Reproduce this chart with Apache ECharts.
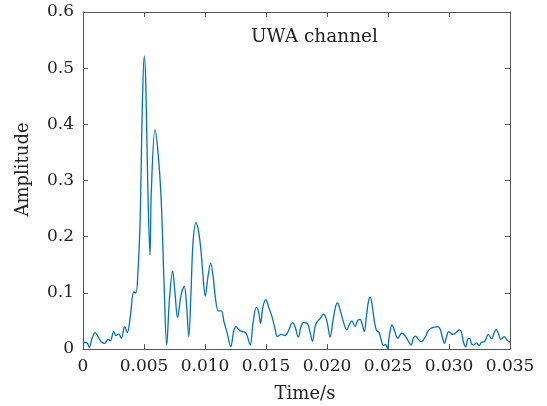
<!DOCTYPE html>
<html>
<head>
<meta charset="utf-8">
<script src="https://cdn.jsdelivr.net/npm/echarts@6/dist/echarts.min.js"></script>
<style>
  html, body { margin: 0; padding: 0; background: #fff; }
  #chart { width: 547px; height: 406px; }
</style>
</head>
<body>
<div id="chart"></div>
<script>
// Channel impulse response: time (s) and amplitude samples
const timeSec = [
  0.00000, 0.00033, 0.00052, 0.00074, 0.00101, 0.00123, 0.00150, 0.00178, 0.00205, 0.00224,
  0.00252, 0.00270, 0.00293, 0.00314, 0.00342, 0.00363, 0.00388, 0.00416, 0.00434, 0.00451,
  0.00467, 0.00475, 0.00487, 0.00502, 0.00515, 0.00530, 0.00549, 0.00560, 0.00590, 0.00615,
  0.00640, 0.00664, 0.00686, 0.00709, 0.00735, 0.00754, 0.00775, 0.00803, 0.00830, 0.00848,
  0.00867, 0.00885, 0.00902, 0.00926, 0.00947, 0.00967, 0.00984, 0.01002, 0.01025, 0.01047,
  0.01066, 0.01086, 0.01109, 0.01134, 0.01156, 0.01180, 0.01211, 0.01234, 0.01254, 0.01279,
  0.01303, 0.01332, 0.01348, 0.01371, 0.01393, 0.01421, 0.01439, 0.01455, 0.01475, 0.01498,
  0.01521, 0.01547, 0.01570, 0.01594, 0.01623, 0.01656, 0.01685, 0.01717, 0.01738, 0.01765,
  0.01787, 0.01806, 0.01840, 0.01861, 0.01881, 0.01902, 0.01921, 0.01947, 0.01970, 0.01992,
  0.02008, 0.02025, 0.02049, 0.02070, 0.02086, 0.02107, 0.02126, 0.02162, 0.02180, 0.02203,
  0.02230, 0.02250, 0.02271, 0.02287, 0.02306, 0.02324, 0.02340, 0.02355, 0.02369, 0.02388,
  0.02406, 0.02426, 0.02448, 0.02462, 0.02480, 0.02494, 0.02512, 0.02533, 0.02553, 0.02580,
  0.02612, 0.02635, 0.02664, 0.02689, 0.02709, 0.02727, 0.02746, 0.02771, 0.02807, 0.02828,
  0.02853, 0.02881, 0.02906, 0.02926, 0.02947, 0.02963, 0.02980, 0.02996, 0.03016, 0.03035,
  0.03062, 0.03086, 0.03102, 0.03119, 0.03137, 0.03155, 0.03169, 0.03185, 0.03201, 0.03226,
  0.03246, 0.03267, 0.03291, 0.03322, 0.03350, 0.03369, 0.03387, 0.03406, 0.03424, 0.03453,
  0.03475, 0.03500
];
const amplitude = [
  0.012, 0.011, 0.003, 0.019, 0.029, 0.022, 0.013, 0.010, 0.017, 0.015,
  0.031, 0.024, 0.027, 0.019, 0.040, 0.029, 0.058, 0.102, 0.100, 0.140,
  0.220, 0.300, 0.440, 0.522, 0.470, 0.300, 0.167, 0.280, 0.390, 0.350,
  0.270, 0.120, 0.007, 0.090, 0.139, 0.100, 0.056, 0.095, 0.112, 0.080,
  0.022, 0.100, 0.190, 0.225, 0.210, 0.175, 0.130, 0.094, 0.130, 0.153,
  0.130, 0.090, 0.068, 0.068, 0.048, 0.030, 0.004, 0.030, 0.040, 0.034,
  0.031, 0.029, 0.022, 0.007, 0.045, 0.074, 0.066, 0.046, 0.075, 0.088,
  0.075, 0.059, 0.040, 0.022, 0.026, 0.024, 0.033, 0.047, 0.040, 0.021,
  0.040, 0.047, 0.045, 0.030, 0.014, 0.040, 0.049, 0.055, 0.062, 0.055,
  0.040, 0.021, 0.050, 0.075, 0.082, 0.070, 0.055, 0.034, 0.042, 0.050,
  0.040, 0.050, 0.053, 0.045, 0.031, 0.060, 0.085, 0.092, 0.080, 0.050,
  0.033, 0.030, 0.013, 0.006, 0.008, 0.001, 0.025, 0.043, 0.033, 0.019,
  0.028, 0.025, 0.015, 0.007, 0.020, 0.023, 0.018, 0.013, 0.022, 0.032,
  0.037, 0.039, 0.040, 0.036, 0.020, 0.010, 0.022, 0.031, 0.028, 0.026,
  0.030, 0.034, 0.030, 0.012, 0.004, 0.018, 0.019, 0.009, 0.007, 0.011,
  0.006, 0.012, 0.013, 0.026, 0.018, 0.028, 0.035, 0.027, 0.017, 0.022,
  0.016, 0.012
];
const xTicks = ['0', '0.005', '0.010', '0.015', '0.020', '0.025', '0.030', '0.035'];
const yTicks = ['0', '0.1', '0.2', '0.3', '0.4', '0.5', '0.6'];

const FONT = 'DejaVu Serif';
const AXIS_COLOR = '#555555';

const chart = echarts.init(document.getElementById('chart'), null, { renderer: 'canvas' });

const axisBase = {
  axisLine: { show: true, onZero: false, lineStyle: { color: AXIS_COLOR, width: 1 } },
  axisTick: { show: true, inside: true, length: 5, lineStyle: { color: AXIS_COLOR, width: 1 } },
  splitLine: { show: false }
};

chart.setOption({
  animation: false,
  backgroundColor: '#ffffff',
  grid: { left: 83, right: 37, top: 12, bottom: 57, containLabel: false, outerBoundsMode: 'none' },
  graphic: [{
    type: 'text',
    left: 251,
    top: 28,
    style: { text: 'UWA channel', font: '18.5px "DejaVu Serif"', fill: '#222222' }
  }],
  xAxis: [
    Object.assign({}, axisBase, {
      type: 'value', position: 'bottom', min: 0, max: 0.035, interval: 0.005,
      name: 'Time/s', nameLocation: 'middle', nameGap: 36,
      nameTextStyle: { fontFamily: FONT, fontSize: 18, color: '#222222', padding: [0, 0, 0, 17] },
      axisLabel: {
        margin: 9, fontFamily: FONT, fontSize: 17, color: '#222222',
        formatter: function (v) { return xTicks[Math.round(v / 0.005)]; }
      }
    }),
    Object.assign({}, axisBase, {
      type: 'value', position: 'top', min: 0, max: 0.035, interval: 0.005,
      axisLabel: { show: false }
    })
  ],
  yAxis: [
    Object.assign({}, axisBase, {
      type: 'value', position: 'left', min: 0, max: 0.6, interval: 0.1,
      name: 'Amplitude', nameLocation: 'middle', nameGap: 51, nameRotate: 90,
      nameTextStyle: { fontFamily: FONT, fontSize: 18, color: '#222222', padding: [0, 0, 0, 22] },
      axisLabel: {
        margin: 9, fontFamily: FONT, fontSize: 17, color: '#222222',
        formatter: function (v) { return yTicks[Math.round(v / 0.1)]; }
      }
    }),
    Object.assign({}, axisBase, {
      type: 'value', position: 'right', min: 0, max: 0.6, interval: 0.1,
      axisLabel: { show: false }
    })
  ],
  series: [{
    type: 'line',
    xAxisIndex: 0,
    yAxisIndex: 0,
    data: timeSec.map(function (t, i) { return [t, amplitude[i]]; }),
    smooth: 0.35,
    showSymbol: false,
    lineStyle: { color: '#0072BD', width: 1.3 },
    clip: true
  }]
});
</script>
</body>
</html>
